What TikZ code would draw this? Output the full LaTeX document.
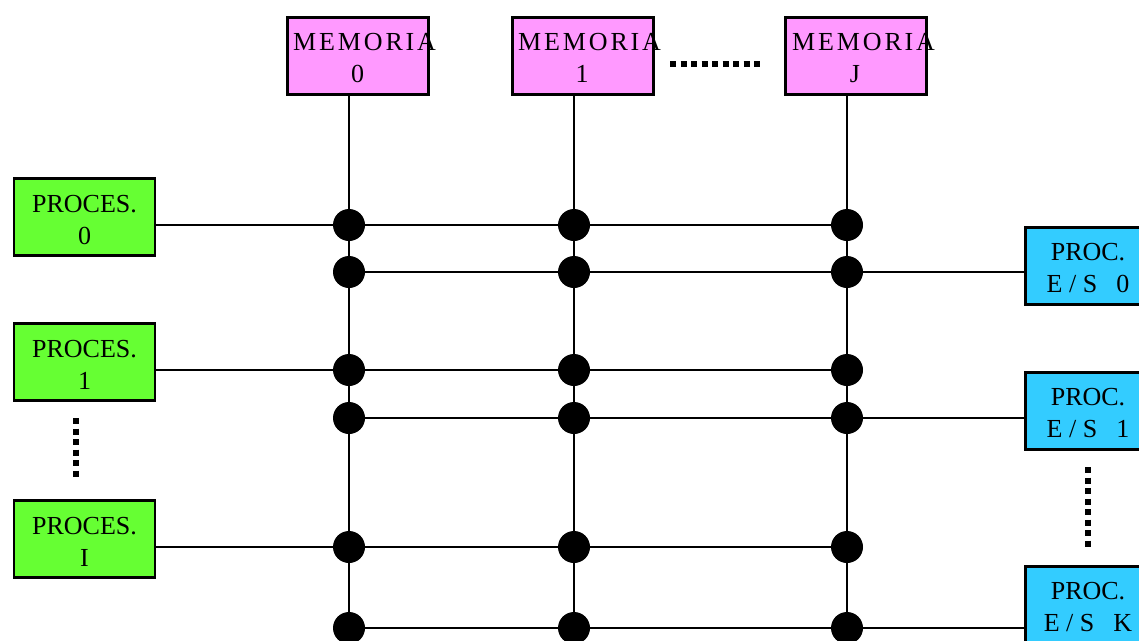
\documentclass[tikz,border=0pt]{standalone}
\usepackage{fontspec}
\setmainfont{Liberation Serif}
\newfontfamily\spacedfont[LetterSpace=11]{Liberation Serif}
\definecolor{memfill}{HTML}{FF99FF}
\definecolor{procfill}{HTML}{66FF33}
\definecolor{iofill}{HTML}{33CCFF}
\begin{document}
\begin{tikzpicture}[x=1pt,y=-1pt,
  box/.style={draw=black,line width=2.6pt,minimum width=141pt,minimum height=77pt,inner sep=0pt,outer sep=0pt,anchor=north west},
  membox/.style={box,fill=memfill},
  procbox/.style={box,fill=procfill},
  iobox/.style={box,fill=iofill},
  lbl/.style={inner sep=0pt,anchor=base,font=\fontsize{26}{30}\selectfont},
  memlbl/.style={inner sep=0pt,anchor=base west,font=\fontsize{26}{30}\spacedfont},
  bus/.style={line width=2.2pt},
  junction/.style={circle,fill=black,minimum size=32pt,inner sep=0pt},
  dotline/.style={line width=6pt,dash pattern=on 6pt off 4.5pt}
]
\clip (0,0) rectangle (1139,640);
\fill[white] (0,0) rectangle (1139,640);

% memory boxes
\node[membox] (m0) at (287.5,17.3) {};
\node[membox] (m1) at (512.5,17.3) {};
\node[membox] (mj) at (785.5,17.3) {};
\node[memlbl] (m0a) at (293,50) {MEMORIA};
\node[memlbl] (m1a) at (518,50) {MEMORIA};
\node[memlbl] (mja) at (792,50) {MEMORIA};
\node[lbl] (m0b) at (357.5,82) {0};
\node[lbl] (m1b) at (582,82) {1};
\node[lbl] (mjb) at (855,82) {J};

% processor boxes
\node[procbox] (p0) at (14,178.5) {};
\node[procbox] (p1) at (14,323.5) {};
\node[procbox] (pi) at (14,500.5) {};
\node[lbl] (p0a) at (84.5,212) {PROCES.};
\node[lbl] (p0b) at (84.5,244) {0};
\node[lbl] (p1a) at (84.5,357) {PROCES.};
\node[lbl] (p1b) at (84.5,389) {1};
\node[lbl] (pia) at (84.5,534) {PROCES.};
\node[lbl] (pib) at (84.5,566) {I};

% I/O processor boxes
\node[iobox] (e0) at (1025.5,227.5) {};
\node[iobox] (e1) at (1025.5,372.5) {};
\node[iobox] (ek) at (1025.5,566.5) {};
\node[lbl] (e0a) at (1088,260) {PROC.};
\node[lbl] (e0b) at (1088,292) {E / S\hspace{19pt}0};
\node[lbl] (e1a) at (1088,405) {PROC.};
\node[lbl] (e1b) at (1088,437) {E / S\hspace{19pt}1};
\node[lbl] (eka) at (1088,599) {PROC.};
\node[lbl] (ekb) at (1088,631) {E / S\hspace{19pt}K};

% junctions
\foreach \r/\y in {1/225,2/272,3/370,4/418,5/547,6/628}{
  \foreach \c/\x in {1/349,2/574,3/847}{
    \node[junction] (j\r\c) at (\x,\y) {};
  }
}

% vertical buses
\draw[bus] (j11 |- m0.south) -- (j11) -- (j21) -- (j31) -- (j41) -- (j51) -- (j61);
\draw[bus] (j12 |- m1.south) -- (j12) -- (j22) -- (j32) -- (j42) -- (j52) -- (j62);
\draw[bus] (j13 |- mj.south) -- (j13) -- (j23) -- (j33) -- (j43) -- (j53) -- (j63);

% processor rows
\draw[bus] (p0.east |- j11) -- (j11) -- (j12) -- (j13);
\draw[bus] (p1.east |- j31) -- (j31) -- (j32) -- (j33);
\draw[bus] (pi.east |- j51) -- (j51) -- (j52) -- (j53);

% I/O rows
\draw[bus] (j21) -- (j22) -- (j23) -- (e0.west |- j23);
\draw[bus] (j41) -- (j42) -- (j43) -- (e1.west |- j43);
\draw[bus] (j61) -- (j62) -- (j63) -- (ek.west |- j63);

% ellipsis dots
\coordinate (hd1) at (670,64);
\coordinate (hd2) at (762,64);
\draw[dotline] (hd1) -- (hd2);
\coordinate (ld1) at (76,418);
\coordinate (ld2) at (76,479);
\draw[dotline] (ld1) -- (ld2);
\coordinate (rd1) at (1088,467);
\coordinate (rd2) at (1088,549);
\draw[dotline] (rd1) -- (rd2);
\end{tikzpicture}
\end{document}
